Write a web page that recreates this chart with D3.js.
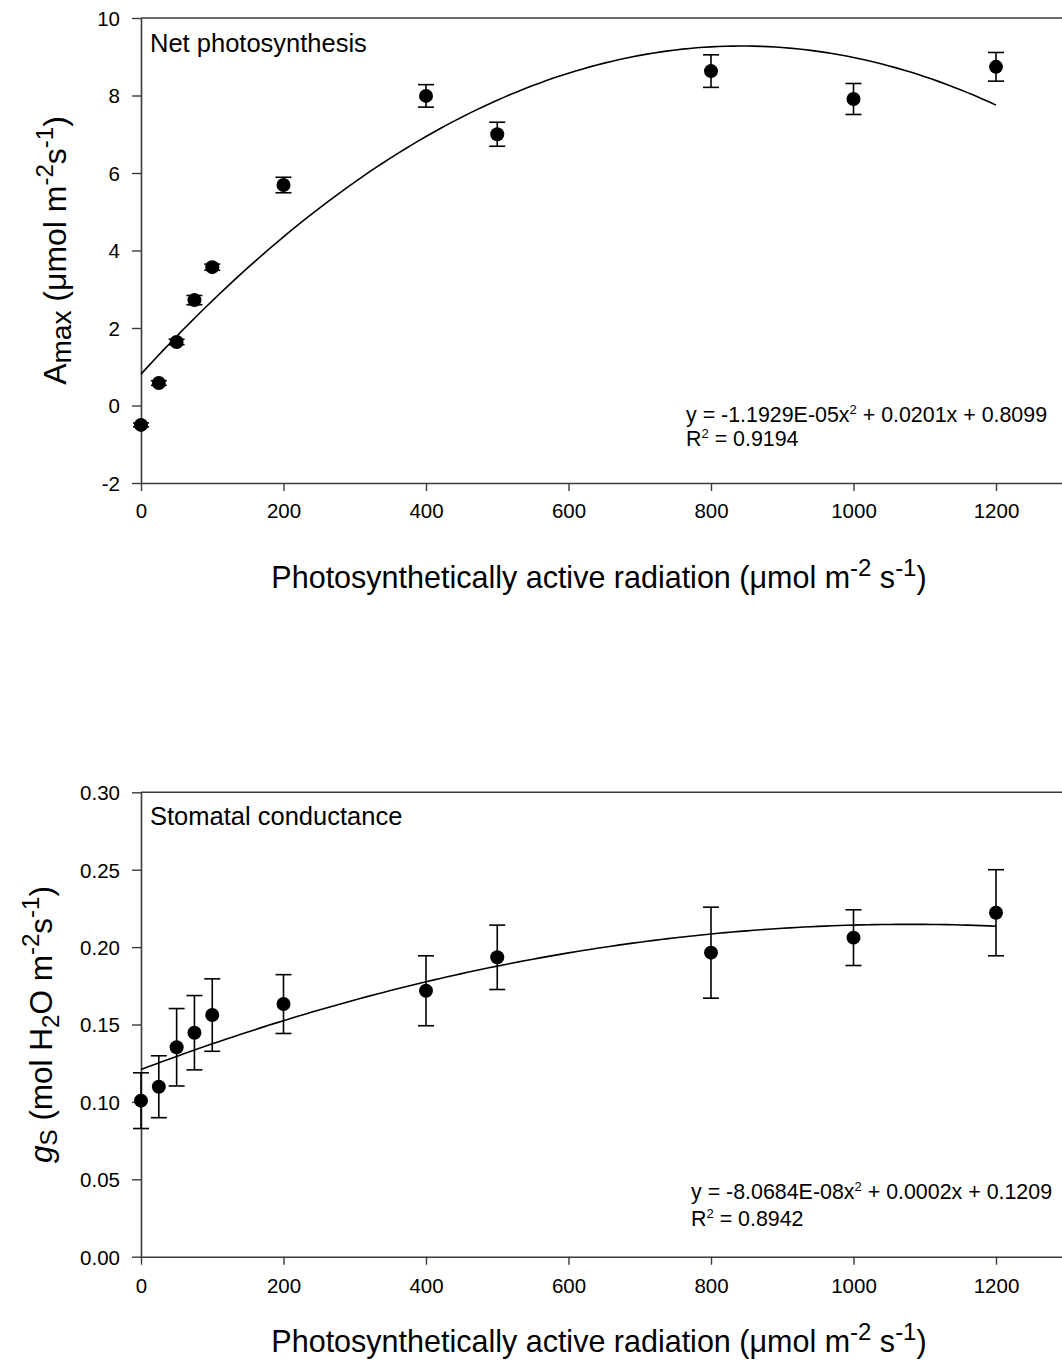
<!DOCTYPE html>
<html>
<head>
<meta charset="utf-8">
<script src="https://cdn.jsdelivr.net/npm/d3@7"></script>
<style>
  body { margin: 0; background: #fff; }
  svg { font-family: "Liberation Sans", Arial, sans-serif; }
</style>
</head>
<body>
<div id="chart"></div>
<script>
var width = 1062, height = 1362;

// light levels (PAR)
var parLevels = [0, 25, 50, 75, 100, 200, 400, 500, 800, 1000, 1200];
var xTicks = [0, 200, 400, 600, 800, 1000, 1200];

// net photosynthesis, mean and error
var amax    = [-0.5, 0.58, 1.64, 2.72, 3.57, 5.69, 7.99, 7.0, 8.63, 7.91, 8.74];
var amaxErr = [0.05, 0.06, 0.07, 0.12, 0.08, 0.2, 0.29, 0.31, 0.42, 0.4, 0.37];
var amaxFit = [-1.1929e-5, 0.0201, 0.8099];
var amaxTicks = [-2, 0, 2, 4, 6, 8, 10];

// stomatal conductance, mean and error
var gs    = [0.1008, 0.1098, 0.1353, 0.1447, 0.1561, 0.1632, 0.1718, 0.1934, 0.1964, 0.2061, 0.2222];
var gsErr = [0.018, 0.02, 0.025, 0.024, 0.0234, 0.019, 0.0226, 0.0208, 0.0294, 0.018, 0.0278];
var gsFit = [-8.0684e-8, 0.000174, 0.1209]; // label rounds the slope to 0.0002
var gsTicks = [0, 0.05, 0.10, 0.15, 0.20, 0.25, 0.30];

var svg = d3.select("#chart").append("svg")
  .attr("width", width)
  .attr("height", height);

var x = d3.scaleLinear().domain([0, 1300]).range([141, 1067.25]);

// plain hyphen for negatives, like the original
function intFmt(v){ return String(v); }

var panels = [
  { vals: amax, err: amaxErr, fit: amaxFit, ticks: amaxTicks, fmt: intFmt,
    domain: [-2, 10], range: [483, 18], title: "Net photosynthesis", titleY: 52,
    eq: ["y = -1.1929E-05x", "2", " + 0.0201x + 0.8099"], r2: "0.9194",
    eqX: 686, eqY: 422, r2Y: 446, tickY: 518, labelY: 588 },
  { vals: gs, err: gsErr, fit: gsFit, ticks: gsTicks, fmt: d3.format(".2f"),
    domain: [0, 0.30], range: [1256.7, 792.3], title: "Stomatal conductance", titleY: 825,
    eq: ["y = -8.0684E-08x", "2", " + 0.0002x + 0.1209"], r2: "0.8942",
    eqX: 691, eqY: 1199, r2Y: 1226, tickY: 1293, labelY: 1352 }
];

panels.forEach(function(p, pi){
  var y = d3.scaleLinear().domain(p.domain).range(p.range);
  var g = svg.append("g");
  var axisColor = "#3a3a3a";

  // left axis
  var yAxis = g.append("g")
    .attr("transform", "translate(" + x(0) + ",0)")
    .call(d3.axisLeft(y).tickValues(p.ticks).tickFormat(p.fmt).tickSize(9).tickSizeOuter(0).tickPadding(12));
  // bottom axis
  var xAxis = g.append("g")
    .attr("transform", "translate(0," + y(p.domain[0]) + ")")
    .call(d3.axisBottom(x).tickValues(xTicks).tickFormat(d3.format("d")).tickSize(8).tickSizeOuter(0).tickPadding(14));

  [yAxis, xAxis].forEach(function(a){
    a.select(".domain").attr("stroke", axisColor).attr("stroke-width", 1.6);
    a.selectAll(".tick line").attr("stroke", axisColor).attr("stroke-width", 1.4);
    a.selectAll(".tick text").attr("fill", "#000").style("font-size", "20.5px")
      .style("font-family", '"Liberation Sans", Arial, sans-serif');
  });
  xAxis.selectAll(".tick text").attr("dy", null).attr("y", p.tickY - y(p.domain[0]));
  yAxis.selectAll(".tick text").attr("dy", "0.36em");

  // top frame line
  g.append("line")
    .attr("x1", x(0)).attr("x2", x(1300))
    .attr("y1", y(p.domain[1])).attr("y2", y(p.domain[1]))
    .attr("stroke", axisColor).attr("stroke-width", 1.6);

  // fitted curve
  var fitPts = d3.range(0, 1201, 10).map(function(v){
    return [v, p.fit[0] * v * v + p.fit[1] * v + p.fit[2]];
  });
  g.append("path")
    .datum(fitPts)
    .attr("fill", "none")
    .attr("stroke", "#000")
    .attr("stroke-width", 1.6)
    .attr("d", d3.line().x(function(d){ return x(d[0]); }).y(function(d){ return y(d[1]); }));

  var data = parLevels.map(function(v, i){ return { x: v, y: p.vals[i], e: p.err[i] }; });

  // error bars
  var eb = g.selectAll(".err").data(data).enter().append("g").attr("class", "err")
    .attr("stroke", "#000").attr("stroke-width", 1.6);
  eb.append("line")
    .attr("x1", function(d){ return x(d.x); }).attr("x2", function(d){ return x(d.x); })
    .attr("y1", function(d){ return y(d.y - d.e); }).attr("y2", function(d){ return y(d.y + d.e); });
  eb.append("line")
    .attr("x1", function(d){ return x(d.x) - 8; }).attr("x2", function(d){ return x(d.x) + 8; })
    .attr("y1", function(d){ return y(d.y + d.e); }).attr("y2", function(d){ return y(d.y + d.e); });
  eb.append("line")
    .attr("x1", function(d){ return x(d.x) - 8; }).attr("x2", function(d){ return x(d.x) + 8; })
    .attr("y1", function(d){ return y(d.y - d.e); }).attr("y2", function(d){ return y(d.y - d.e); });

  // points
  g.selectAll(".pt").data(data).enter().append("circle").attr("class", "pt")
    .attr("cx", function(d){ return x(d.x); })
    .attr("cy", function(d){ return y(d.y); })
    .attr("r", 7)
    .attr("fill", "#000");

  // panel title
  g.append("text").attr("x", 150).attr("y", p.titleY)
    .style("font-size", "25.5px").text(p.title);

  // equation
  var eq = g.append("text").attr("x", p.eqX).attr("y", p.eqY).style("font-size", "21.4px");
  eq.append("tspan").text(p.eq[0]);
  eq.append("tspan").attr("dy", -8).style("font-size", "13px").text(p.eq[1]);
  eq.append("tspan").attr("dy", 8).text(p.eq[2]);
  var r2 = g.append("text").attr("x", p.eqX).attr("y", p.r2Y).style("font-size", "21.4px");
  r2.append("tspan").text("R");
  r2.append("tspan").attr("dy", -8).style("font-size", "13px").text("2");
  r2.append("tspan").attr("dy", 8).text(" = " + p.r2);

  // x label
  var xl = g.append("text").attr("x", 599).attr("y", p.labelY)
    .attr("text-anchor", "middle").style("font-size", "30.5px");
  xl.append("tspan").text("Photosynthetically active radiation (\u03bcmol m");
  xl.append("tspan").attr("dy", -12).style("font-size", "24px").text("-2");
  xl.append("tspan").attr("dy", 12).text(" s");
  xl.append("tspan").attr("dy", -12).style("font-size", "24px").text("-1");
  xl.append("tspan").attr("dy", 12).text(")");

  // y label
  var yc = (p.range[0] + p.range[1]) / 2;
  if (pi === 0) {
    var yl = g.append("text")
      .attr("transform", "translate(66," + (yc + 0) + ") rotate(-90)")
      .attr("text-anchor", "middle").style("font-size", "32px");
    yl.append("tspan").text("A");
    yl.append("tspan").attr("dy", 5).style("font-size", "28px").text("max");
    yl.append("tspan").attr("dy", -5).text(" (\u03bcmol m");
    yl.append("tspan").attr("dy", -13).style("font-size", "24px").text("-2");
    yl.append("tspan").attr("dy", 13).text("s");
    yl.append("tspan").attr("dy", -13).style("font-size", "24px").text("-1");
    yl.append("tspan").attr("dy", 13).text(")");
  } else {
    var yl2 = g.append("text")
      .attr("transform", "translate(52," + (yc + 0) + ") rotate(-90)")
      .attr("text-anchor", "middle").style("font-size", "31.5px");
    yl2.append("tspan").style("font-style", "italic").text("g");
    yl2.append("tspan").attr("dy", 5).style("font-size", "24px").text("S");
    yl2.append("tspan").attr("dy", -5).text(" (mol H");
    yl2.append("tspan").attr("dy", 7).style("font-size", "24px").text("2");
    yl2.append("tspan").attr("dy", -7).text("O m");
    yl2.append("tspan").attr("dy", -13).style("font-size", "24px").text("-2");
    yl2.append("tspan").attr("dy", 13).text("s");
    yl2.append("tspan").attr("dy", -13).style("font-size", "24px").text("-1");
    yl2.append("tspan").attr("dy", 13).text(")");
  }
});
</script>
</body>
</html>
